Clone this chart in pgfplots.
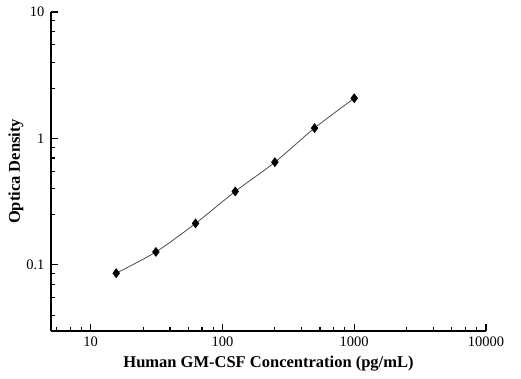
\documentclass[border=0pt]{standalone}
\usepackage{pgfplots}
\pgfplotsset{compat=1.18}
\usepackage{fontspec}
\setmainfont{Liberation Serif}
\begin{document}
\begin{tikzpicture}
\begin{axis}[
  at={(0,0)}, anchor=south west,
  scale only axis, width=435pt, height=319pt,
  xmode=log, ymode=log,
  xmin=5, xmax=10000, ymin=0.03, ymax=10,
  axis lines=left, axis line style={line width=1.5pt, -},
  tick align=inside,
  major tick length=7pt, minor tick length=4pt,
  every tick/.style={black, line width=1.1pt},
  xtick={10,100,1000,10000}, xticklabels={10,100,1000,10000},
  ytick={0.1,1,10}, yticklabels={0.1,1,10},
  minor xtick={5.5,7,8.5,25,40,55,70,85,250,400,550,700,850,2500,4000,5500,7000,8500},
  minor ytick={0.04,0.055,0.07,0.085,0.25,0.4,0.55,0.7,0.85,2.5,4,5.5,7,8.5},
  tick label style={font=\fontsize{14.5}{16}\selectfont},
  xticklabel style={yshift=-2pt},
  yticklabel style={xshift=-3pt},
  xlabel={\textbf{Human GM-CSF Concentration (pg/mL)}},
  ylabel={\textbf{Optica Density}},
  label style={font=\fontsize{16.5}{18}\selectfont},
  xlabel style={yshift=-3pt},
  ylabel style={yshift=-4pt},
  clip=false,
]
\addplot[smooth, color=black!70, line width=0.8pt, mark=diamond*, mark size=4.3pt,
  mark options={fill=black, draw=black}]
  coordinates {
  (15.625,0.086) (31.25,0.1266) (62.5,0.213) (125,0.381) (250,0.649) (500,1.208) (1000,2.08)
  };
\end{axis}
\pgfresetboundingbox
\useasboundingbox (-51pt,-47pt) rectangle (470pt,331pt);
\end{tikzpicture}
\end{document}
